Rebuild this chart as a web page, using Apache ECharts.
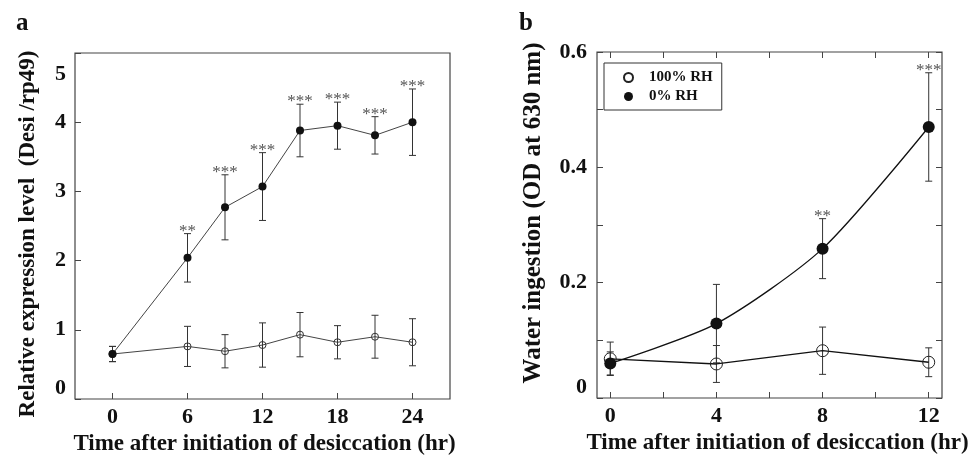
<!DOCTYPE html>
<html>
<head>
<meta charset="utf-8">
<title>Desi expression and water ingestion</title>
<script src="https://cdn.jsdelivr.net/npm/echarts@6/dist/echarts.min.js"></script>
<style>
  html, body { margin: 0; padding: 0; background: #fff; }
  #main { width: 976px; height: 458px; }
</style>
</head>
<body>
<div id="main"></div>
<script>
// panel a: Desi / rp49 expression over time
var hoursA = [0, 6, 9, 12, 15, 18, 21, 24];
var dryA = [0.65, 2.04, 2.77, 3.07, 3.88, 3.95, 3.81, 4.00];
var dryErrA = [0.11, 0.35, 0.47, 0.49, 0.38, 0.34, 0.27, 0.48];
var wetA = [0.65, 0.76, 0.69, 0.78, 0.93, 0.82, 0.90, 0.82];
var wetErrA = [0.11, 0.29, 0.24, 0.32, 0.32, 0.24, 0.31, 0.34];
var starsA = ['', '**', '***', '***', '***', '***', '***', '***'];
var xTicksA = [0, 6, 12, 18, 24];

// panel b: water ingestion
var hoursB = [0, 4, 8, 12];
var dryB = [0.060, 0.129, 0.259, 0.470];
var dryErrB = [0.020, 0.068, 0.052, 0.094];
var wetB = [0.068, 0.059, 0.082, 0.062];
var wetErrB = [0.029, 0.032, 0.041, 0.025];
var starsB = ['', '', '**', '***'];
var xTicksB = [0, 2, 4, 6, 8, 10, 12];
var xLabelsB = [0, 4, 8, 12];
var yTicksB = [0, 0.1, 0.2, 0.3, 0.4, 0.5, 0.6];
var yLabelsB = [0, 0.2, 0.4, 0.6];

var serif = '"Liberation Serif", "Times New Roman", serif';

function pairs(xs, ys) {
    return xs.map(function (x, i) { return [x, ys[i]]; });
}
function ranges(xs, ys, es) {
    return xs.map(function (x, i) { return [x, ys[i] - es[i], ys[i] + es[i]]; });
}

// error bar with caps, plus significance stars above the top cap
function errorBar(stars, cap, color, width) {
    return function (params, api) {
        var x = api.value(0);
        var top = api.coord([x, api.value(2)]);
        var bot = api.coord([x, api.value(1)]);
        var st = { stroke: color, lineWidth: width };
        var kids = [
            { type: 'line', shape: { x1: top[0], y1: top[1], x2: bot[0], y2: bot[1] }, style: st },
            { type: 'line', shape: { x1: top[0] - cap, y1: top[1], x2: top[0] + cap, y2: top[1] }, style: st },
            { type: 'line', shape: { x1: bot[0] - cap, y1: bot[1], x2: bot[0] + cap, y2: bot[1] }, style: st }
        ];
        var s = stars && stars[params.dataIndex];
        if (s) {
            kids.push({
                type: 'text', x: top[0], y: top[1] + 6,
                style: { text: s, fill: '#555', font: '17px ' + serif, align: 'center', verticalAlign: 'bottom' }
            });
        }
        return { type: 'group', children: kids };
    };
}

var tickLabel = { fontFamily: serif, fontWeight: 'bold', fontSize: 22, color: '#111' };
var tickLine = { inside: true, length: 6, lineStyle: { color: '#444', width: 1 } };
var noLine = { show: false, onZero: false };
function nameText(size, pad) {
    return { fontFamily: serif, fontWeight: 'bold', fontSize: size, color: '#111', padding: pad };
}

var myChart = echarts.init(document.getElementById('main'));

var option = {
    animation: false,
    backgroundColor: '#fff',
    title: [
        { text: 'a', left: 11, top: 6, textStyle: { fontFamily: serif, fontWeight: 'bold', fontSize: 25, color: '#111' } },
        { text: 'b', left: 514, top: 6, textStyle: { fontFamily: serif, fontWeight: 'bold', fontSize: 25, color: '#111' } }
    ],
    legend: {
        left: 604, top: 63,
        orient: 'vertical',
        padding: [7, 9, 6, 19],
        itemGap: 4,
        itemWidth: 9, itemHeight: 9,
        borderColor: '#333', borderWidth: 1,
        textStyle: { fontFamily: serif, fontWeight: 'bold', fontSize: 15, color: '#111', padding: [0, 0, 0, 11] },
        data: [{ name: '100% RH', icon: 'circle' }, { name: '0% RH', icon: 'circle' }]
    },
    grid: [
        { left: 75, top: 53, right: 526, bottom: 59, outerBoundsMode: 'none', containLabel: false,
          show: true, borderColor: '#444', borderWidth: 1.2 },
        { left: 597, top: 52, right: 34, bottom: 60, outerBoundsMode: 'none', containLabel: false,
          show: true, borderColor: '#444', borderWidth: 1.2 }
    ],
    xAxis: [
        {
            gridIndex: 0, type: 'value', min: -3, max: 27,
            axisLine: noLine, splitLine: { show: false },
            axisTick: Object.assign({ customValues: xTicksA }, tickLine),
            axisLabel: Object.assign({ customValues: xTicksA, margin: 7 }, tickLabel),
            name: 'Time after initiation of desiccation (hr)', nameLocation: 'middle', nameGap: 31,
            nameTextStyle: nameText(23, [0, 0, 0, 4])
        },
        {
            gridIndex: 1, type: 'value', min: -0.5, max: 12.5,
            axisLine: noLine, splitLine: { show: false },
            axisTick: Object.assign({ customValues: xTicksB }, tickLine),
            axisLabel: Object.assign({ customValues: xLabelsB, margin: 7 }, tickLabel),
            name: 'Time after initiation of desiccation (hr)', nameLocation: 'middle', nameGap: 25,
            nameTextStyle: nameText(23, [0, 0, 0, 16])
        },
        {
            gridIndex: 1, type: 'value', min: -0.5, max: 12.5, position: 'top',
            axisLine: noLine, splitLine: { show: false },
            axisTick: Object.assign({ customValues: xTicksB }, tickLine),
            axisLabel: { show: false }
        }
    ],
    yAxis: [
        {
            gridIndex: 0, type: 'value', min: 0, max: 5, interval: 1,
            axisLine: noLine, splitLine: { show: false },
            axisTick: tickLine,
            axisLabel: Object.assign({
                margin: 9, verticalAlignMinLabel: 'bottom', verticalAlignMaxLabel: 'top',
                formatter: function (v) { return v === 5 ? '{low|' + v + '}' : String(v); },
                rich: { low: { fontFamily: serif, fontWeight: 'bold', fontSize: 22, color: '#111', padding: [10, 0, 0, 0] } }
            }, tickLabel),
            name: 'Relative expression level  (Desi /rp49)', nameLocation: 'middle', nameGap: 35,
            nameTextStyle: nameText(23, [0, 16, 0, 0])
        },
        {
            gridIndex: 1, type: 'value', min: 0, max: 0.6,
            axisLine: noLine, splitLine: { show: false },
            axisTick: Object.assign({ customValues: yTicksB }, tickLine),
            axisLabel: Object.assign({
                customValues: yLabelsB, margin: 10, verticalAlignMinLabel: 'bottom',
                formatter: function (v) { return v === 0 ? '0' : v.toFixed(1); }
            }, tickLabel),
            name: 'Water ingestion (OD at 630 nm)', nameLocation: 'middle', nameGap: 51,
            nameTextStyle: nameText(25, [0, 0, 0, 24])
        },
        {
            gridIndex: 1, type: 'value', min: 0, max: 0.6, position: 'right',
            axisLine: noLine, splitLine: { show: false },
            axisTick: Object.assign({ customValues: yTicksB }, tickLine),
            axisLabel: { show: false }
        }
    ],
    series: [
        // panel a
        {
            type: 'custom', name: 'a wet err', xAxisIndex: 0, yAxisIndex: 0, z: 3,
            renderItem: errorBar(null, 3.5, '#333', 1),
            encode: { x: 0, y: [1, 2] },
            data: ranges(hoursA, wetA, wetErrA)
        },
        {
            type: 'line', name: 'a 100% RH', xAxisIndex: 0, yAxisIndex: 0, z: 2,
            symbol: 'circle', symbolSize: 7,
            lineStyle: { color: '#444', width: 1 },
            itemStyle: { color: 'rgba(255,255,255,0)', borderColor: '#333', borderWidth: 1 },
            data: pairs(hoursA, wetA)
        },
        {
            type: 'custom', name: 'a dry err', xAxisIndex: 0, yAxisIndex: 0, z: 3,
            renderItem: errorBar(starsA, 3.5, '#333', 1),
            encode: { x: 0, y: [1, 2] },
            data: ranges(hoursA, dryA, dryErrA)
        },
        {
            type: 'line', name: 'a 0% RH', xAxisIndex: 0, yAxisIndex: 0, z: 4,
            symbol: 'circle', symbolSize: 8,
            lineStyle: { color: '#444', width: 1 },
            itemStyle: { color: '#111' },
            data: pairs(hoursA, dryA)
        },
        // panel b
        {
            type: 'custom', name: 'b wet err', xAxisIndex: 1, yAxisIndex: 1, z: 2,
            renderItem: errorBar(null, 3.5, '#333', 1),
            encode: { x: 0, y: [1, 2] },
            data: ranges(hoursB, wetB, wetErrB)
        },
        {
            type: 'custom', name: 'b dry err', xAxisIndex: 1, yAxisIndex: 1, z: 2,
            renderItem: errorBar(starsB, 3.5, '#333', 1),
            encode: { x: 0, y: [1, 2] },
            data: ranges(hoursB, dryB, dryErrB)
        },
        {
            type: 'line', name: '100% RH', xAxisIndex: 1, yAxisIndex: 1, z: 4,
            symbol: 'circle', symbolSize: 12,
            lineStyle: { color: '#111', width: 1.3 },
            itemStyle: { color: 'rgba(255,255,255,0)', borderColor: '#222', borderWidth: 1 },
            data: pairs(hoursB, wetB)
        },
        {
            type: 'line', name: '0% RH', xAxisIndex: 1, yAxisIndex: 1, z: 5,
            symbol: 'circle', symbolSize: 12, smooth: 0.25,
            lineStyle: { color: '#111', width: 1.3 },
            itemStyle: { color: '#111' },
            data: pairs(hoursB, dryB)
        }
    ]
};
myChart.setOption(option);
</script>
</body>
</html>
